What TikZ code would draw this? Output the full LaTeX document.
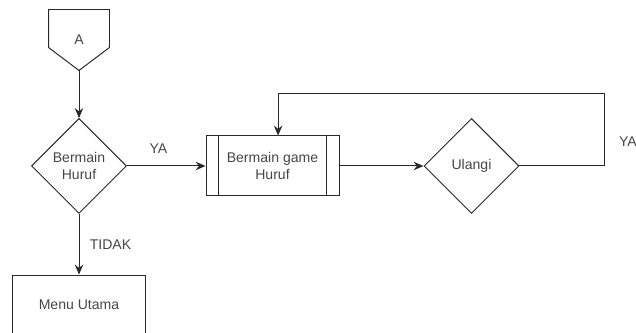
\documentclass[tikz,border=0pt]{standalone}
\usepackage{fontspec}
\setmainfont{Liberation Sans}
\usepackage{xcolor}
\usepackage{tikz}
\usetikzlibrary{positioning,arrows.meta,shapes.geometric}
\definecolor{linecolor}{RGB}{40,40,40}
\definecolor{textcolor}{RGB}{70,70,70}
\tikzset{
  flow base/.style={
    draw=linecolor,
    line width=0.7pt,
    text=textcolor,
    font=\fontsize{10}{12}\selectfont,
    align=center,
    inner sep=1pt
  },
  offpage/.style={
    flow base,
    draw=none,
    minimum width=1.5cm,
    minimum height=1.5cm
  },
  decision/.style={
    flow base,
    diamond,
    aspect=1,
    minimum width=2.375cm,
    minimum height=2.375cm,
    inner sep=0pt
  },
  process/.style={
    flow base,
    rectangle,
    minimum width=3.325cm,
    minimum height=1.5cm
  },
  arrow/.style={
    -{Stealth[length=7pt,width=6pt]},
    draw=linecolor,
    line width=0.7pt
  },
  label text/.style={
    text=textcolor,
    font=\fontsize{10}{12}\selectfont
  }
}
\begin{document}
\begin{tikzpicture}[node distance=3cm]
  \useasboundingbox (0,0) rectangle (15.9,8.325);

  % Nodes
  \node[offpage] (conA) at (1.975,7.325) {A};
  \node[decision, below of=conA, yshift=-0.15cm] (main) {Bermain\\Huruf};
  \node[process, below of=main, yshift=-0.475cm] (menu) {Menu Utama};
  \node[process, right of=main, xshift=1.8375cm] (game) {Bermain game\\Huruf};
  \node[decision, right of=game, xshift=1.975cm] (again) {Ulangi};

  % Off-page connector outline
  \draw[draw=linecolor, line width=0.7pt] (conA.north west) -- (conA.north east)
    -- ([yshift=0.575cm]conA.south east) -- (conA.south)
    -- ([yshift=0.575cm]conA.south west) -- cycle;

  % Process side bars
  \draw[draw=linecolor, line width=0.7pt] ([xshift=0.325cm]game.north west) -- ([xshift=0.325cm]game.south west);
  \draw[draw=linecolor, line width=0.7pt] ([xshift=-0.325cm]game.north east) -- ([xshift=-0.325cm]game.south east);

  % Connectors
  \draw[arrow] (conA.south) -- (main.north);
  \draw[arrow] (main.east) -- node[label text, above=5pt, pos=0.4] {YA} (main.east -| game.west);
  \draw[arrow] (main.south) -- node[label text, right=4pt] {TIDAK} (menu.north);
  \draw[arrow] (game.east) -- (game.east -| again.west);

  % Loop back
  \coordinate (loopR) at (15.1,5.975);
  \draw[arrow] (again.east) -| node[label text, right=7pt, pos=0.67] {YA} (loopR)
    -| ([xshift=0.14cm]game.north);

\end{tikzpicture}
\end{document}
